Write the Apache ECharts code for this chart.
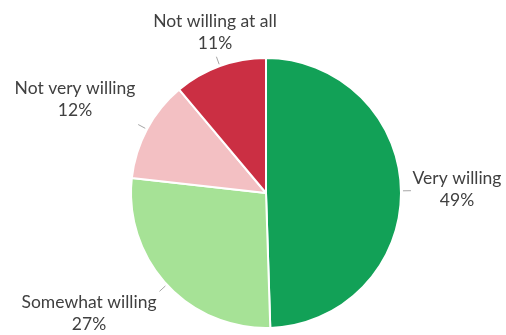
<!DOCTYPE html>
<html>
<head>
<meta charset="utf-8">
<script src="https://cdn.jsdelivr.net/npm/echarts@6/dist/echarts.min.js"></script>
<style>
  html, body { margin: 0; padding: 0; background: #fff; }
  #chart { width: 506px; height: 335px; }
</style>
</head>
<body>
<div id="chart"></div>
<script>
// Willingness survey: share of respondents per answer (percent)
const categories = ['Very willing', 'Somewhat willing', 'Not very willing', 'Not willing at all'];
const values = [49, 27, 12, 11];
const colors = ['#12A157', '#A6E296', '#F3C0C3', '#CB2F43'];

// Text anchor per slice label (centre of the two-line block)
const labelAnchors = [[457, 189], [89, 313], [75, 99], [215, 32]];

const center = [266, 193];
const radius = 135;

const chart = echarts.init(document.getElementById('chart'), null, { renderer: 'canvas' });

chart.setOption({
  animation: false,
  backgroundColor: '#ffffff',
  series: [{
    type: 'pie',
    center: center,
    radius: radius,
    startAngle: 90,
    clockwise: true,
    avoidLabelOverlap: false,
    itemStyle: { borderColor: '#ffffff', borderWidth: 2 },
    label: {
      show: true,
      position: 'outside',
      formatter: '{b}\n{c}%',
      fontFamily: 'Lato',
      fontSize: 17.5,
      lineHeight: 22,
      color: '#404040'
    },
    labelLine: {
      show: true,
      length: 8,
      length2: 0,
      lineStyle: { color: '#A6A6A6', width: 1 }
    },
    labelLayout: function (params) {
      const i = params.dataIndex;
      const pts = params.labelLinePoints;
      let line;
      if (pts && pts.length) {
        // short tick along the slice's mid-angle, detached from the rim
        const dx = pts[0][0] - center[0];
        const dy = pts[0][1] - center[1];
        const len = Math.sqrt(dx * dx + dy * dy) || 1;
        const ux = dx / len, uy = dy / len;
        const a = [center[0] + ux * (radius + 2), center[1] + uy * (radius + 2)];
        const b = [center[0] + ux * (radius + 10), center[1] + uy * (radius + 10)];
        line = [a, b, b];
      }
      const out = {
        x: labelAnchors[i][0],
        y: labelAnchors[i][1],
        align: 'center',
        verticalAlign: 'middle'
      };
      if (line) out.labelLinePoints = line;
      return out;
    },
    data: categories.map((name, i) => ({
      name: name,
      value: values[i],
      itemStyle: { color: colors[i] }
    }))
  }]
});
</script>
</body>
</html>
